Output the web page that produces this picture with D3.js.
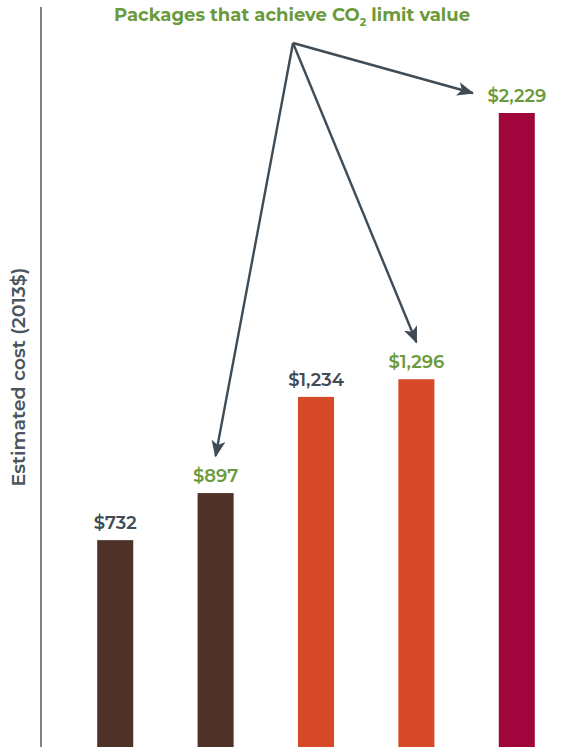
<!DOCTYPE html>
<html>
<head>
<meta charset="utf-8">
<script src="https://cdn.jsdelivr.net/npm/d3@7"></script>
<style>
  body { margin: 0; background: #fff; }
  svg { display: block; font-family: "Montserrat", "Lato", "Open Sans", sans-serif; }
</style>
</head>
<body>
<svg width="564" height="747"></svg>
<script>
const width = 564;
const height = 747;

// data
const packages = ["A", "B", "C", "D", "E"];
const costs = [732, 897, 1234, 1296, 2229];
const achievesLimit = [false, true, false, true, true];
const barColors = ["#4e3228", "#4e3228", "#d64a29", "#d64a29", "#a0063c"];

const green = "#6a9a3c";
const dark = "#3f4b55";

const svg = d3.select("svg");

const x = d3.scaleBand().domain(packages).range([47, 585]).paddingInner(0.641).paddingOuter(0.5);
const y = d3.scaleLinear().domain([0, 2229]).range([749, 113]);

// y axis line, no ticks
svg.append("line")
  .attr("x1", 41).attr("x2", 41)
  .attr("y1", 7).attr("y2", height)
  .attr("stroke", "#5a6670").attr("stroke-width", 1.6);

svg.append("text")
  .attr("transform", `translate(${[25, 377]}) rotate(-90)`)
  .attr("text-anchor", "middle")
  .attr("font-size", 19)
  .attr("font-weight", 600)
  .attr("fill", "#4a5560")
  .text("Estimated cost (2013$)");

const data = packages.map((p, i) => ({ p, v: costs[i], hit: achievesLimit[i], c: barColors[i] }));

svg.selectAll("rect.bar")
  .data(data)
  .enter()
  .append("rect")
  .attr("class", "bar")
  .attr("x", d => x(d.p))
  .attr("width", x.bandwidth())
  .attr("y", d => y(d.v))
  .attr("height", d => y(0) - y(d.v))
  .attr("fill", d => d.c);

svg.selectAll("text.val")
  .data(data)
  .enter()
  .append("text")
  .attr("class", "val")
  .attr("x", d => x(d.p) + x.bandwidth() / 2)
  .attr("y", d => y(d.v) - 11)
  .attr("text-anchor", "middle")
  .attr("font-size", 18)
  .attr("font-weight", 600)
  .attr("fill", d => d.hit ? green : dark)
  .text(d => d3.format("$,")(d.v));

// title
const title = svg.append("text")
  .attr("x", 292).attr("y", 21)
  .attr("text-anchor", "middle")
  .attr("font-size", 18)
  .attr("font-weight", 700)
  .attr("fill", green);
title.append("tspan").text("Packages that achieve CO");
title.append("tspan").attr("font-size", 11).attr("dy", 5).text("2");
title.append("tspan").attr("dy", -5).text(" limit value");

// arrows
svg.append("defs").append("marker")
  .attr("id", "head")
  .attr("viewBox", "0 0 12 10")
  .attr("refX", 11).attr("refY", 5)
  .attr("markerWidth", 7).attr("markerHeight", 6)
  .attr("markerUnits", "strokeWidth")
  .attr("orient", "auto")
  .append("path")
  .attr("d", "M0,0 L12,5 L0,10 L3,5 Z")
  .attr("fill", dark);

const origin = [293, 43];
const targets = data.filter(d => d.hit).map((d, i, arr) => {
  const cx = x(d.p) + x.bandwidth() / 2;
  if (i === arr.length - 1) return [cx - 44, y(d.v) - 20];
  return [cx, y(d.v) - 37];
});

svg.selectAll("line.arrow")
  .data(targets)
  .enter()
  .append("line")
  .attr("class", "arrow")
  .attr("x1", origin[0]).attr("y1", origin[1])
  .attr("x2", d => d[0]).attr("y2", d => d[1])
  .attr("stroke", dark)
  .attr("stroke-width", 2.4)
  .attr("marker-end", "url(#head)");
</script>
</body>
</html>
